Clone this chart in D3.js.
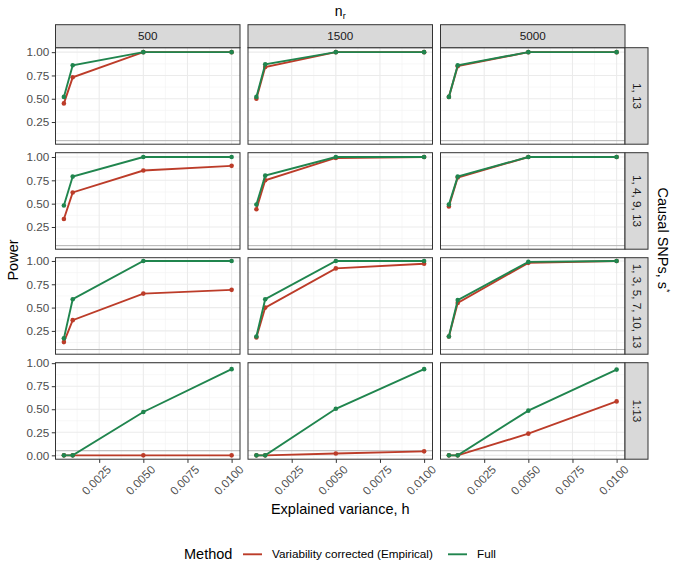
<!DOCTYPE html>
<html>
<head>
<meta charset="utf-8">
<script src="https://cdn.jsdelivr.net/npm/d3@7"></script>
<style>
  body { margin: 0; background: #fff; }
  svg { font-family: "Liberation Sans", Arial, sans-serif; }
  .axis text { fill: #4d4d4d; font-size: 11.7px; font-family: "Liberation Sans", Arial, sans-serif; }
  .axis line { stroke: #333; }
  .axis path { display: none; }
</style>
</head>
<body>
<svg id="chart" width="678" height="581"></svg>
<script>
// Explained variance values (x)
const hValues = [0.0005, 0.001, 0.005, 0.01];
const xTicks = [0.0025, 0.005, 0.0075, 0.01];
const nrLevels = ["500", "1500", "5000"];
const snpSets = ["1, 13", "1, 4, 9, 13", "1, 3, 5, 7, 10, 13", "1:13"];
const methods = ["Variability corrected (Empirical)", "Full"];
const methodColors = ["#BC3C29", "#20854E"];

// power[row][nr] -> one value per h
const powerEmpirical = [
  [[0.45, 0.73, 1.00, 1.00], [0.50, 0.84, 1.00, 1.00], [0.52, 0.85, 1.00, 1.00]],
  [[0.335, 0.62, 0.855, 0.905], [0.44, 0.75, 0.99, 1.00], [0.47, 0.78, 1.00, 1.00]],
  [[0.13, 0.365, 0.65, 0.69], [0.18, 0.50, 0.92, 0.97], [0.19, 0.55, 0.98, 1.00]],
  [[0.00, 0.00, 0.00, 0.00], [0.00, 0.00, 0.02, 0.043], [0.00, 0.00, 0.235, 0.585]]
];
const powerFull = [
  [[0.52, 0.86, 1.00, 1.00], [0.52, 0.87, 1.00, 1.00], [0.52, 0.86, 1.00, 1.00]],
  [[0.48, 0.79, 1.00, 1.00], [0.49, 0.80, 1.00, 1.00], [0.49, 0.79, 1.00, 1.00]],
  [[0.17, 0.59, 1.00, 1.00], [0.19, 0.59, 1.00, 1.00], [0.19, 0.58, 0.99, 1.00]],
  [[0.00, 0.00, 0.47, 0.935], [0.00, 0.00, 0.505, 0.935], [0.00, 0.00, 0.485, 0.93]]
];
// y ranges per row (free scales)
const yDomains = [[0.012, 1.048], [0.012, 1.046], [0.0, 1.035], [-0.042, 1.005]];
const yTicksRows = [[0.25, 0.5, 0.75, 1], [0.25, 0.5, 0.75, 1], [0.25, 0.5, 0.75, 1], [0, 0.25, 0.5, 0.75, 1]];
const alphaLine = 0.05;

const svg = d3.select("#chart");

// layout
const panelLeft = 55.5, panelW = 184.5, gapX = 8;
const panelTop = 47.7, panelH = 96.5, gapY = 8.5;
const stripH = 23;

const xScale = d3.scaleLinear()
  .domain([0.000025, 0.010475])
  .range([0, panelW]);

const series = [powerEmpirical, powerFull];

snpSets.forEach((snp, r) => {
  const y0 = panelTop + r * (panelH + gapY);
  const yScale = d3.scaleLinear().domain(yDomains[r]).range([panelH, 0]);

  nrLevels.forEach((nr, c) => {
    const x0 = panelLeft + c * (panelW + gapX);
    const g = svg.append("g").attr("transform", `translate(${x0},${y0})`);

    // background
    g.append("rect").attr("width", panelW).attr("height", panelH).attr("fill", "#fff");

    // minor grid
    const minorX = xTicks.map(t => t - 0.00125);
    const yMajor = yTicksRows[r];
    const minorY = [0.125, 0.375, 0.625, 0.875].filter(v => v > yDomains[r][0] && v < yDomains[r][1]);
    g.selectAll(".mx").data(minorX).join("line")
      .attr("x1", d => xScale(d)).attr("x2", d => xScale(d))
      .attr("y1", 0).attr("y2", panelH)
      .attr("stroke", "#f2f2f2").attr("stroke-width", 0.6);
    g.selectAll(".my").data(minorY).join("line")
      .attr("y1", d => yScale(d)).attr("y2", d => yScale(d))
      .attr("x1", 0).attr("x2", panelW)
      .attr("stroke", "#f2f2f2").attr("stroke-width", 0.6);
    // major grid
    g.selectAll(".Mx").data(xTicks).join("line")
      .attr("x1", d => xScale(d)).attr("x2", d => xScale(d))
      .attr("y1", 0).attr("y2", panelH)
      .attr("stroke", "#ebebeb").attr("stroke-width", 1.1);
    g.selectAll(".My").data(yMajor).join("line")
      .attr("y1", d => yScale(d)).attr("y2", d => yScale(d))
      .attr("x1", 0).attr("x2", panelW)
      .attr("stroke", "#ebebeb").attr("stroke-width", 1.1);

    // significance level
    g.append("line")
      .attr("x1", 0).attr("x2", panelW)
      .attr("y1", yScale(alphaLine)).attr("y2", yScale(alphaLine))
      .attr("stroke", "#b3b3b3").attr("stroke-width", 1);

    // lines + points
    const line = d3.line().x((d, i) => xScale(hValues[i])).y(d => yScale(d));
    series.forEach((s, m) => {
      const vals = s[r][c];
      g.append("path").datum(vals)
        .attr("d", line).attr("fill", "none")
        .attr("stroke", methodColors[m]).attr("stroke-width", 1.9);
      g.selectAll(".pt" + m).data(vals).join("circle")
        .attr("cx", (d, i) => xScale(hValues[i])).attr("cy", d => yScale(d))
        .attr("r", 2.3).attr("fill", methodColors[m]);
    });

    // border
    g.append("rect").attr("width", panelW).attr("height", panelH)
      .attr("fill", "none").attr("stroke", "#333").attr("stroke-width", 1);

    // y axis on first column
    if (c === 0) {
      g.append("g").attr("class", "axis")
        .call(d3.axisLeft(yScale).tickValues(yMajor).tickFormat(d3.format(".2f"))
          .tickSize(3.7).tickPadding(2.5));
    }
    // x axis on last row
    if (r === snpSets.length - 1) {
      const ax = g.append("g").attr("class", "axis")
        .attr("transform", `translate(0,${panelH})`)
        .call(d3.axisBottom(xScale).tickValues(xTicks).tickFormat(d3.format(".4f"))
          .tickSize(3.7).tickPadding(2));
      ax.selectAll("text")
        .attr("text-anchor", "end")
        .attr("dy", null)
        .attr("transform", "translate(6,5) rotate(-45)")
        .attr("y", 0).attr("x", 0)
        .attr("dominant-baseline", "hanging");
    }

    // top strip
    if (r === 0) {
      const st = svg.append("g").attr("transform", `translate(${x0},${panelTop - stripH})`);
      st.append("rect").attr("width", panelW).attr("height", stripH)
        .attr("fill", "#d9d9d9").attr("stroke", "#333").attr("stroke-width", 1);
      st.append("text").attr("x", panelW / 2).attr("y", stripH / 2 + 4)
        .attr("text-anchor", "middle").attr("font-size", 11.7).attr("fill", "#1a1a1a")
        .text(nr);
    }
  });

  // right strip
  const sx = panelLeft + 3 * panelW + 2 * gapX;
  const rs = svg.append("g").attr("transform", `translate(${sx},${y0})`);
  rs.append("rect").attr("width", stripH).attr("height", panelH)
    .attr("fill", "#d9d9d9").attr("stroke", "#333").attr("stroke-width", 1);
  rs.append("text")
    .attr("transform", `translate(${stripH / 2 - 4},${panelH / 2}) rotate(90)`)
    .attr("text-anchor", "middle").attr("font-size", 11.7).attr("fill", "#1a1a1a")
    .text(snp);
});

const plotCenterX = panelLeft + (3 * panelW + 2 * gapX) / 2;

// top title n_r
const topT = svg.append("text").attr("x", plotCenterX).attr("y", 16)
  .attr("text-anchor", "middle").attr("font-size", 14).attr("fill", "#000");
topT.append("tspan").text("n");
topT.append("tspan").attr("font-size", 9).attr("dy", 3).text("r");

// right title
const rt = svg.append("text")
  .attr("transform", `translate(658,240) rotate(90)`)
  .attr("text-anchor", "middle").attr("font-size", 14.5).attr("fill", "#000");
rt.append("tspan").text("Causal SNPs, s");
rt.append("tspan").attr("font-size", 9).attr("dy", -6).text("*");

// y title
svg.append("text")
  .attr("transform", `translate(18,260) rotate(-90)`)
  .attr("text-anchor", "middle").attr("font-size", 14.5).attr("fill", "#000")
  .text("Power");

// x title
svg.append("text").attr("x", plotCenterX).attr("y", 514)
  .attr("text-anchor", "middle").attr("font-size", 14.5).attr("fill", "#000")
  .text("Explained variance, h");

// legend
const lg = svg.append("g");
lg.append("text").attr("x", 184).attr("y", 559).attr("font-size", 14.5).attr("fill", "#000").text("Method");
const keyX = [243, 448];
const labX = [272, 477];
methods.forEach((m, i) => {
  lg.append("line").attr("x1", keyX[i]).attr("x2", keyX[i] + 19)
    .attr("y1", 554.3).attr("y2", 554.3)
    .attr("stroke", methodColors[i]).attr("stroke-width", 1.9);
  lg.append("text").attr("x", labX[i]).attr("y", 558).attr("font-size", 11.7).attr("fill", "#000").text(m);
});
</script>
</body>
</html>
